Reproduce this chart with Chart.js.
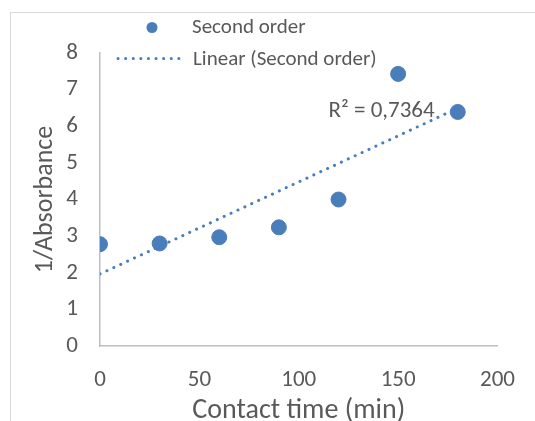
<!DOCTYPE html>
<html>
<head>
<meta charset="utf-8">
<script src="https://cdn.jsdelivr.net/npm/chart.js@4"></script>
<style>
	body { margin: 0; background: #fff; }
	#wrap { position: relative; width: 535px; height: 421px; }
	#frame { position: absolute; left: 10px; top: 12px; right: 0; bottom: 0; border-left: 1px solid #d9d9d9; border-top: 1px solid #d9d9d9; }
	canvas { position: absolute; left: 0; top: 0; }
</style>
</head>
<body>
<div id="wrap">
	<div id="frame"></div>
	<canvas id="myChart" width="535" height="421"></canvas>
</div>
<script>
var contactTime = [0, 30, 60, 90, 120, 150, 180];
var invAbsorbance = [2.78, 2.80, 2.97, 3.24, 4.00, 7.43, 6.39];
var xTicks = [0, 50, 100, 150, 200];
var yTicks = [0, 1, 2, 3, 4, 5, 6, 7, 8];
var r2Label = 'R² = 0,7364';

var blue = '#4a7ebb';
var grey = '#595959';
var font = "Calibri, Carlito, 'Open Sans', sans-serif";

// linear trend (least squares) from the data
var n = contactTime.length, mx = 0, my = 0;
for (var i = 0; i < n; i++) { mx += contactTime[i]; my += invAbsorbance[i]; }
mx /= n; my /= n;
var sxy = 0, sxx = 0;
for (var i = 0; i < n; i++) {
	sxy += (contactTime[i] - mx) * (invAbsorbance[i] - my);
	sxx += (contactTime[i] - mx) * (contactTime[i] - mx);
}
var slope = sxy / sxx, icpt = my - slope * mx;
var trend = [
	{x: contactTime[0], y: icpt + slope * contactTime[0]},
	{x: contactTime[n - 1], y: icpt + slope * contactTime[n - 1]}
];

var points = contactTime.map(function(t, i){ return {x: t, y: invAbsorbance[i]}; });

// legend + R² text drawn over the plot like Excel does
var extras = {
	id: 'extras',
	afterDraw: function(chart){
		var ctx = chart.ctx, xs = chart.scales.x, ys = chart.scales.y;
		ctx.save();
		ctx.font = "21px " + font;
		ctx.fillStyle = grey;
		ctx.textBaseline = 'middle';
		ctx.textAlign = 'left';
		ctx.fillText('Second order', 192, 28);
		ctx.fillText('Linear (Second order)', 193, 60);
		ctx.fillStyle = blue;
		ctx.beginPath();
		ctx.arc(152, 27.5, 5.5, 0, Math.PI * 2);
		ctx.fill();
		ctx.strokeStyle = blue;
		ctx.lineWidth = 3;
		ctx.lineCap = 'round';
		ctx.setLineDash([0.1, 7.5]);
		ctx.beginPath();
		ctx.moveTo(118, 58.5);
		ctx.lineTo(186, 58.5);
		ctx.stroke();
		ctx.setLineDash([]);
		ctx.font = "23px " + font;
		ctx.fillStyle = grey;
		ctx.fillText(r2Label, xs.getPixelForValue(115), ys.getPixelForValue(6.42));
		ctx.restore();
	}
};

var config = {
	type: 'scatter',
	data: {
		datasets: [{
			label: 'Second order',
			data: points,
			backgroundColor: blue,
			borderColor: blue,
			pointRadius: 7.5,
			pointHoverRadius: 7.5,
			order: 1
		}, {
			label: 'Linear (Second order)',
			type: 'line',
			data: trend,
			borderColor: blue,
			borderWidth: 3,
			borderDash: [0.1, 7.5],
			borderCapStyle: 'round',
			pointRadius: 0,
			fill: false,
			order: 2
		}]
	},
	options: {
		responsive: false,
		animation: false,
		layout: { padding: { left: 0, right: 22, top: 53, bottom: 0 } },
		plugins: { legend: { display: false }, tooltip: { enabled: false } },
		scales: {
			x: {
				type: 'linear',
				min: 0, max: 200,
				afterBuildTicks: function(s){ s.ticks = xTicks.map(function(v){ return {value: v}; }); },
				afterFit: function(s){ s.height = 75; },
				grid: { display: false, drawTicks: false },
				border: { color: '#bfbfbf', width: 1.5 },
				ticks: { color: grey, font: { size: 23, family: font }, padding: 20 },
				title: { display: true, text: 'Contact time (min)', color: grey, font: { size: 28, family: font }, padding: { top: 0, bottom: -7 } }
			},
			y: {
				min: 0, max: 8,
				afterBuildTicks: function(s){ s.ticks = yTicks.map(function(v){ return {value: v}; }); },
				afterFit: function(s){ s.width = 100; },
				grid: { display: false, drawTicks: false },
				border: { color: '#bfbfbf', width: 1.5 },
				ticks: { color: grey, font: { size: 23, family: font }, padding: 22 },
				title: { display: true, text: '1/Absorbance', color: grey, font: { size: 26, family: font }, padding: { top: 30, bottom: 0 } }
			}
		}
	},
	plugins: [extras]
};

new Chart(document.getElementById('myChart').getContext('2d'), config);
</script>
</body>
</html>
